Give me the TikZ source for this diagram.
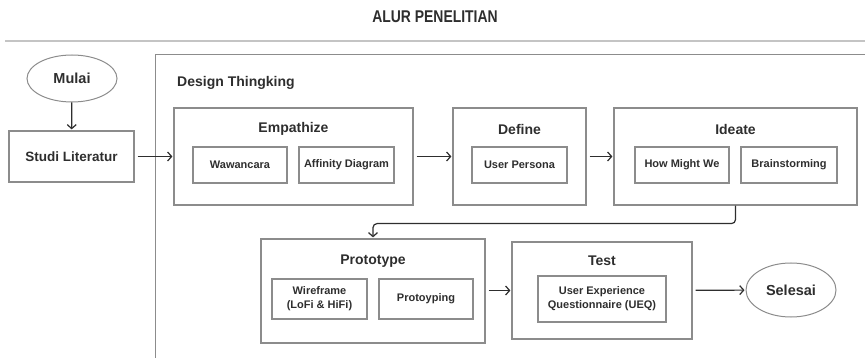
\documentclass[tikz,border=0pt]{standalone}
\usepackage{fontspec}
\setmainfont{Liberation Sans}
\usetikzlibrary{arrows.meta,shapes.geometric}

\definecolor{framegray}{HTML}{8C8C8C}
\definecolor{rulegray}{HTML}{C4C4C4}
\definecolor{inkgray}{HTML}{2E2E2E}

\tikzset{
  phasebox/.style={draw=framegray, line width=1.2pt, rectangle, inner sep=0pt},
  subbox/.style={draw=framegray, line width=1.1pt, rectangle, inner sep=0pt,
    align=center, text=inkgray, font=\bfseries\fontsize{11}{14}\selectfont},
  phasetitle/.style={text=inkgray, font=\bfseries\fontsize{14}{16}\selectfont},
  oval/.style={draw=framegray, line width=1pt, ellipse, inner sep=0pt,
    text=inkgray, font=\bfseries\fontsize{14.5}{16}\selectfont},
  arr/.style={draw=inkgray, line width=1.2pt, -{Straight Barb[length=4pt,width=9pt]},
    shorten <=3pt, shorten >=1pt}
}

\begin{document}
\begin{tikzpicture}[x=1pt,y=-1pt]
  \useasboundingbox (0,0) rectangle (865,358);

  % title and rule
  \node[text=inkgray, font=\bfseries\fontsize{17}{19}\selectfont, xscale=0.82] (title) at (435,17) {ALUR PENELITIAN};
  \draw[rulegray, line width=1.8pt] (5,41) -- (865,41);

  % design thinking frame
  \draw[framegray, line width=1pt] (865,55) -- (155,55) -- (155,358);
  \node[phasetitle, anchor=west, inner sep=0pt] (dt) at (177,83) {Design Thingking};

  % start and literature
  \node[oval, minimum width=90pt, minimum height=47pt] (mulai) at (72,78.5) {Mulai};
  \node[phasebox, minimum width=125pt, minimum height=51pt, text=inkgray,
        font=\bfseries\fontsize{13.5}{15}\selectfont] (studi) at (71.5,156.5) {Studi Literatur};

  % phases
  \node[phasebox, minimum width=239pt, minimum height=97pt] (empathize) at (293.5,156.5) {};
  \node[phasebox, minimum width=133pt, minimum height=97pt] (define) at (519.5,156.5) {};
  \node[phasebox, minimum width=243pt, minimum height=97pt] (ideate) at (735.5,156.5) {};
  \node[phasebox, minimum width=224pt, minimum height=104pt] (prototype) at (373,291) {};
  \node[phasebox, minimum width=180pt, minimum height=97pt] (test) at (602,290.5) {};

  \node[phasetitle] (empathizeT) at (293.5,129) {Empathize};
  \node[phasetitle] (defineT) at (519.5,129) {Define};
  \node[phasetitle] (ideateT) at (735.5,129) {Ideate};
  \node[phasetitle] (prototypeT) at (373,261) {Prototype};
  \node[phasetitle] (testT) at (602,261) {Test};

  % activities
  \node[subbox, minimum width=94pt, minimum height=36pt] (wawancara) at (240,165) {Wawancara};
  \node[subbox, minimum width=95pt, minimum height=36pt] (affinity) at (346.5,165) {Affinity Diagram};
  \node[subbox, minimum width=95pt, minimum height=36pt] (persona) at (519.5,165) {User Persona};
  \node[subbox, minimum width=94pt, minimum height=36pt] (hmw) at (682,165) {How Might We};
  \node[subbox, minimum width=96pt, minimum height=36pt] (brainstorm) at (789,165) {Brainstorming};
  \node[subbox, minimum width=95pt, minimum height=40pt] (wireframe) at (319.5,299) {Wireframe\\(LoFi \& HiFi)};
  \node[subbox, minimum width=94pt, minimum height=40pt] (protoyping) at (426,299) {Protoyping};
  \node[subbox, minimum width=128pt, minimum height=46pt] (ueq) at (602,299) {User Experience\\Questionnaire (UEQ)};

  \node[oval, minimum width=90pt, minimum height=54pt] (selesai) at (791,290) {Selesai};

  % flow
  \draw[arr, shorten <=0pt] (mulai) -- (studi);
  \draw[arr] (studi) -- (empathize);
  \draw[arr] (empathize) -- (define);
  \draw[arr] (define) -- (ideate);
  \draw[arr, shorten <=0pt, rounded corners=4pt] (ideate.south) -- ++(0,18) -| (prototype.north);
  \draw[arr] (prototype.east |- test.west) -- (test.west);
  \draw[arr] (test) -- (selesai);
\end{tikzpicture}
\end{document}
